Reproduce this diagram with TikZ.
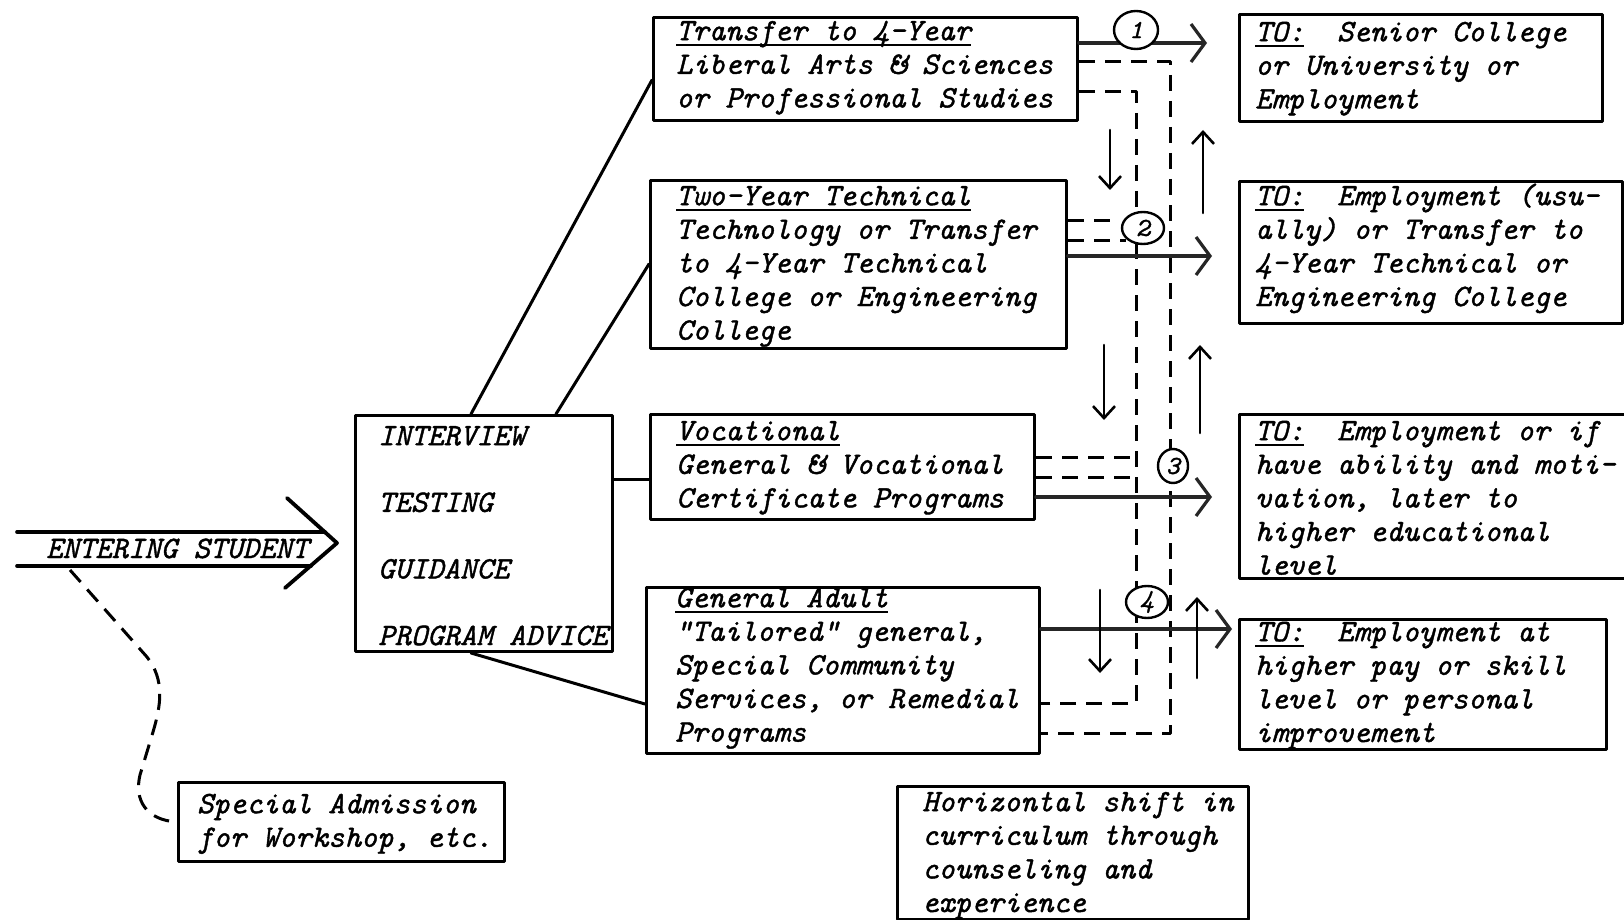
\documentclass[tikz,border=0pt]{standalone}
\usepackage{fontspec}
\usetikzlibrary{arrows.meta,calc,shapes.geometric}
\newfontfamily\twfam{Latin Modern Mono}[ItalicFeatures={FakeBold=1.3},UprightFeatures={FakeBold=1.3}]
\newcommand\tw{\twfam\itshape\fontsize{31.2}{33.6}\selectfont}
\newcommand\ulx[1]{\setbox0\hbox{#1}\rlap{\rule[-6pt]{\wd0}{2.4pt}}\box0}
\begin{document}
\begin{tikzpicture}[x=1pt,y=-1pt,line join=round,line cap=round,
  box/.style={draw,line width=3pt,anchor=north west,inner sep=0pt},
  txt/.style={anchor=north west,inner sep=0pt,align=left,font=\tw},
  conn/.style={line width=3pt},
  dsh/.style={line width=3pt,line cap=butt,dash pattern=on 16pt off 10pt},
  harrow/.style={line width=3.6pt,black!85,-{Straight Barb[length=14pt,width=38pt,line width=3.2pt]}},
  varrow/.style={line width=2.6pt,-{Straight Barb[length=12pt,width=22pt,line width=2.6pt]}},
  num/.style={draw,ellipse,fill=white,line width=2.4pt,inner sep=0pt,font=\twfam\itshape\fontsize{26}{26}\selectfont}]
\useasboundingbox (0,0) rectangle (1624,920);
\clip (0,0) rectangle (1624,920);
\fill[white] (0,0) rectangle (1624,920);

% boxes
\node[box,minimum width=424pt,minimum height=103pt] (T1) at (652,16) {};
\node[box,minimum width=416pt,minimum height=168pt] (T2) at (649,179) {};
\node[box,minimum width=384pt,minimum height=105pt] (V) at (649,413) {};
\node[box,minimum width=393pt,minimum height=166pt] (G) at (645,586) {};
\node[box,minimum width=257pt,minimum height=236pt] (M) at (354,414) {};
\node[box,minimum width=363pt,minimum height=107pt] (R1) at (1238,13) {};
\node[box,minimum width=383pt,minimum height=142pt] (R2) at (1238,180) {};
\node[box,minimum width=400pt,minimum height=164pt] (R3) at (1238,413) {};
\node[box,minimum width=367pt,minimum height=130pt] (R4) at (1238,618) {};
\node[box,minimum width=326pt,minimum height=79pt] (SA) at (177,781) {};
\node[box,minimum width=351pt,minimum height=133pt] (HS) at (896,785) {};

% texts
\node[txt] (T1x) at (676,16.5) {\strut\ulx{Transfer to 4-Year}\\Liberal Arts \& Sciences\\or Professional Studies};
\node[txt] (T2x) at (676,181.5) {\strut\ulx{Two-Year Technical}\\Technology or Transfer\\to 4-Year Technical\\College or Engineering\\College};
\node[txt] (Vx) at (676,416.5) {\strut\ulx{Vocational}\\General \& Vocational\\Certificate Programs};
\node[txt] (Gx) at (675,583.5) {\strut\ulx{General Adult}\\"Tailored" general,\\Special Community\\Services, or Remedial\\Programs};
\node[txt] (Mx) at (378,421.5) {\strut INTERVIEW\\[33pt]TESTING\\[33pt]GUIDANCE\\[33pt]PROGRAM ADVICE};
\node[txt] (R1x) at (1255,17.5) {\strut\ulx{TO:}\ \ Senior College\\or University or\\Employment};
\node[txt] (R2x) at (1255,181.5) {\strut\ulx{TO:}\ \ Employment (usu-\\ally) or Transfer to\\4-Year Technical or\\Engineering College};
\node[txt] (R3x) at (1255,416.5) {\strut\ulx{TO:}\ \ Employment or if\\have ability and moti-\\vation, later to\\higher educational\\level};
\node[txt] (R4x) at (1255,617.5) {\strut\ulx{TO:}\ \ Employment at\\higher pay or skill\\level or personal\\improvement};
\node[txt] (SAx) at (197,789.5) {\strut Special Admission\\for Workshop, etc.};
\node[txt] (HSx) at (922,787.5) {\strut Horizontal shift in\\curriculum through\\counseling and\\experience};

% entering student arrow
\node[anchor=base west,inner sep=0pt,font=\tw] (ES) at (46,558) {ENTERING STUDENT};
\draw[line width=3.6pt] (17,532) -- (325,532);
\draw[line width=3.6pt] (17,566) -- (311,566);
\draw[line width=3.8pt] (287,498) -- (337,543) -- (285,588);

% dashed curve to special admission
\draw[dsh] (70,570) -- (147,657) .. controls (165,680) and (161,705) .. (153,732) -- (140,775) .. controls (134,800) and (146,820) .. (SA.west);

% connectors from M
\draw[conn] (M.north -| 471,0) -- (T1.west |- 0,80);
\draw[conn] (M.north -| 556,0) -- (T2.west |- 0,264);
\draw[conn] (M.east |- 0,479) -- (V.west |- 0,479);
\draw[conn] (M.south -| 471,0) -- (G.west |- 0,704);

% dashed shift network
\coordinate (oTop) at (1170,62);
\coordinate (oBot) at (1170,733);
\coordinate (iTop) at (1136,92);
\coordinate (iBot) at (1136,703);
\draw[dsh] (T1.east |- oTop) -- (oTop) -- (oBot) -- (G.east |- oBot);
\draw[dsh] (T1.east |- iTop) -- (iTop) -- (iBot) -- (G.east |- iBot);
\draw[dsh] (T2.east |- 0,220) -- (1110,220);
\draw[dsh] (T2.east |- 0,240) -- (1126,240);
\draw[dsh] (V.east |- 0,457) -- (iTop |- 0,457);
\draw[dsh] (V.east |- 0,477) -- (iTop |- 0,477);

% horizontal arrows to destinations
\coordinate (a1) at (1207,43);
\coordinate (a2) at (1212,256);
\coordinate (a3) at (1212,497);
\coordinate (a4) at (1232,629);
\draw[harrow] (T1.east |- a1) -- (a1);
\draw[harrow] (T2.east |- a2) -- (a2);
\draw[harrow] (V.east |- a3) -- (a3);
\draw[harrow] (G.east |- a4) -- (a4);

% numbered circles
\node[num,minimum width=44pt,minimum height=38pt] (c1) at (1136,30) {1};
\node[num,minimum width=42pt,minimum height=32pt] (c2) at (1143,228) {2};
\node[num,minimum width=30pt,minimum height=34pt] (c3) at (1173,466) {3};
\node[num,minimum width=42pt,minimum height=32pt] (c4) at (1147,602) {4};

% vertical thin arrows
\draw[varrow] (1110,130) -- (1110,190);
\draw[varrow] (1104,345) -- (1104,420);
\draw[varrow] (1100,590) -- (1100,673);
\draw[varrow] (1203,213) -- (1203,130);
\draw[varrow] (1200,433) -- (1200,345);
\draw[varrow] (1197,678) -- (1197,597);
\end{tikzpicture}
\end{document}
